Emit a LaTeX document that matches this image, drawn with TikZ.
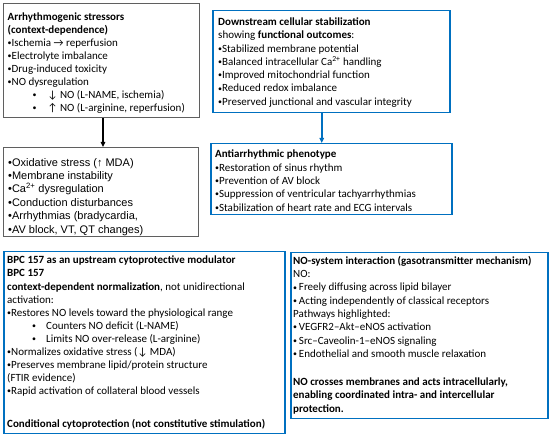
\documentclass[tikz,border=0pt]{standalone}
\usepackage{fontspec}
\setmainfont{Carlito}
\newfontfamily\arialfont{Liberation Sans}
\usetikzlibrary{arrows.meta}
\definecolor{boxblue}{RGB}{0,112,192}
\definecolor{boxgray}{RGB}{95,95,95}
\newcommand{\bl}{\raisebox{0.9pt}{\scalebox{0.72}{•}}}
\tikzset{
  graybox/.style={draw=boxgray, line width=1.1pt, rectangle, inner sep=0pt, anchor=north west},
  bluebox/.style={draw=boxblue, line width=1.5pt, rectangle, inner sep=0pt, anchor=north west},
  txt/.style={anchor=north west, align=left, inner sep=0pt, font=\fontsize{11}{13.3}\selectfont},
  tighttxt/.style={txt, font=\fontsize{11}{13.05}\selectfont},
  arialtxt/.style={txt, font=\arialfont\fontsize{11}{13.4}\selectfont},
  blackarrow/.style={draw=black, line width=1.2pt, -{Triangle[length=5pt,width=4.5pt]}},
  bluearrow/.style={draw=boxblue, line width=1.5pt, -{Triangle[length=5pt,width=4.5pt]}},
}
\begin{document}
\begin{tikzpicture}[x=1pt,y=-1pt]
\fill[white] (0,0) rectangle (550,438);
\useasboundingbox (0,0) rectangle (550,438);

% boxes
\node[graybox, minimum width=196pt, minimum height=114pt] (b1) at (3,3) {};
\node[graybox, minimum width=195pt, minimum height=89pt] (b2) at (3,147) {};
\node[bluebox, minimum width=237pt, minimum height=102pt] (b3) at (212,10) {};
\node[bluebox, minimum width=241pt, minimum height=71pt] (b4) at (210,143) {};
\node[bluebox, minimum width=281pt, minimum height=182pt] (b5) at (3,251) {};
\node[bluebox, minimum width=257pt, minimum height=166pt] (b6) at (290,252) {};

% texts
\node[tighttxt] (t1) at ([shift={(4.5,9.5)}]b1.north west) {%
\textbf{Arrhythmogenic stressors}\\
\textbf{(context-dependence)}\\
\bl Ischemia → reperfusion\\
\bl Electrolyte imbalance\\
\bl Drug-induced toxicity\\
\bl NO dysregulation\\
\hspace*{25pt}\bl\hspace{11pt}↓ NO (L-NAME, ischemia)\\
\hspace*{25pt}\bl\hspace{11pt}↑ NO (L-arginine, reperfusion)};

\node[arialtxt] (t2) at ([shift={(5,11)}]b2.north west) {%
•Oxidative stress (↑ MDA)\\
•Membrane instability\\
•Ca\textsuperscript{2+} dysregulation\\
•Conduction disturbances\\
•Arrhythmias (bradycardia,\\
•AV block, VT, QT changes)};

\node[txt] (t3) at ([shift={(6,7.5)}]b3.north west) {%
\textbf{Downstream cellular stabilization}\\
showing \textbf{functional outcomes}:\\
\bl Stabilized membrane potential\\
\bl Balanced intracellular Ca\textsuperscript{2+} handling\\
\bl Improved mitochondrial function\\
\bl Reduced redox imbalance\\
\bl Preserved junctional and vascular integrity};

\node[txt] (t4) at ([shift={(5,7)}]b4.north west) {%
\textbf{Antiarrhythmic phenotype}\\
\bl Restoration of sinus rhythm\\
\bl Prevention of AV block\\
\bl Suppression of ventricular tachyarrhythmias\\
\bl Stabilization of heart rate and ECG intervals};

\node[tighttxt] (t5) at ([shift={(4,5)}]b5.north west) {%
\textbf{BPC 157 as an upstream cytoprotective modulator}\\
\textbf{BPC 157}\\
\textbf{context-dependent normalization}, not unidirectional\\
activation:\\
\bl Restores NO levels toward the physiological range\\
\hspace*{25pt}\bl\hspace{10pt}Counters NO deficit (L-NAME)\\
\hspace*{25pt}\bl\hspace{10pt}Limits NO over-release (L-arginine)\\
\bl Normalizes oxidative stress (↓ MDA)\\
\bl Preserves membrane lipid/protein structure\\
(FTIR evidence)\\
\bl Rapid activation of collateral blood vessels\\[20pt]
\textbf{Conditional cytoprotection (not constitutive stimulation)}};

\node[txt] (t6) at ([shift={(3,4)}]b6.north west) {%
\textbf{NO-system interaction (gasotransmitter mechanism)}\\
NO:\\
\bl\,Freely diffusing across lipid bilayer\\
\bl\,Acting independently of classical receptors\\
Pathways highlighted:\\
\bl\,VEGFR2–Akt–eNOS activation\\
\bl\,Src–Caveolin-1–eNOS signaling\\
\bl\,Endothelial and smooth muscle relaxation\\[14.7pt]
\textbf{NO crosses membranes and acts intracellularly,}\\
\textbf{enabling coordinated intra- and intercellular}\\
\textbf{protection.}};

% connectors
\draw[blackarrow] ([xshift=1.5pt]b1.south) -- ([xshift=1.5pt]b1.south |- b2.north);
\draw[bluearrow] ([xshift=-9.5pt]b3.south) -- ([xshift=-9.5pt]b3.south |- b4.north);
\end{tikzpicture}
\end{document}
